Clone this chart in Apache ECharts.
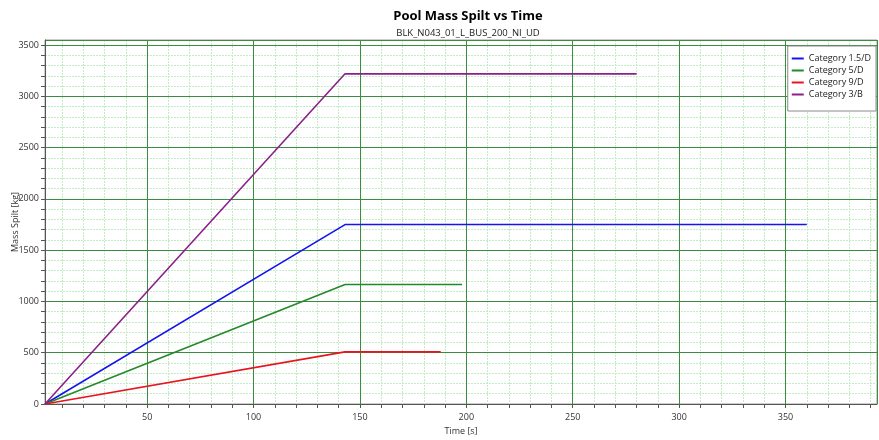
<!DOCTYPE html>
<html>
<head>
<meta charset="utf-8">
<script src="https://cdn.jsdelivr.net/npm/echarts@6/dist/echarts.min.js"></script>
<style>html,body{margin:0;padding:0;background:#fff}#c{width:879px;height:440px}</style>
</head>
<body>
<div id="c"></div>
<script>
const seriesNames = ['Category 1.5/D', 'Category 5/D', 'Category 9/D', 'Category 3/B'];
const seriesColors = ['#1414f0', '#23892a', '#e8141e', '#8c1f8c'];
const time15D = [2, 143, 360];
const mass15D = [0, 1750, 1750];
const time5D = [2, 143, 198];
const mass5D = [0, 1165, 1165];
const time9D = [2, 143, 188];
const mass9D = [0, 508, 508];
const time3B = [2, 143, 280];
const mass3B = [0, 3220, 3220];
const xLabelValues = [50, 100, 150, 200, 250, 300, 350];
const yLabelValues = [0, 500, 1000, 1500, 2000, 2500, 3000, 3500];

const xMin = 2, xMax = 393, yMin = 0, yMax = 3550;
const xMajorStep = 50, xMinorStep = 10, yMajorStep = 500, yMinorStep = 100;
const xTickValues = []; for (let v = 10; v <= 390; v += xMinorStep) xTickValues.push(v);
const yTickValues = []; for (let v = 0; v <= 3500; v += yMinorStep) yTickValues.push(v);

const pairs = (xs, ys) => xs.map((x, i) => [x, ys[i]]);
const dataSets = [pairs(time15D, mass15D), pairs(time5D, mass5D), pairs(time9D, mass9D), pairs(time3B, mass3B)];

const font = 'Open Sans';
const chart = echarts.init(document.getElementById('c'), null, {renderer: 'canvas'});

const gridAxis = (min, max, step, style, z) => ({
  type: 'value', min: min, max: max, minInterval: step, maxInterval: step, z: z,
  axisLine: {show: false}, axisTick: {show: false}, axisLabel: {show: false},
  splitLine: {show: true, lineStyle: style}, minorSplitLine: {show: false}
});
const minorStyle = {color: '#c4ecc4', width: 1, type: [2, 1]};
const majorStyle = {color: '#3a8c3f', width: 1, type: 'solid'};

chart.setOption({
  animation: false,
  backgroundColor: '#fff',
  title: [
    {text: 'Pool Mass Spilt vs Time', left: 463, top: 5, textAlign: 'center',
     textStyle: {fontFamily: font, fontSize: 13, fontWeight: 'bold', color: '#000'}},
    {text: 'BLK_N043_01_L_BUS_200_NI_UD', left: 463, top: 23, textAlign: 'center',
     textStyle: {fontFamily: font, fontSize: 9.5, fontWeight: 'normal', color: '#222'}}
  ],
  grid: {left: 45, right: 2, top: 40, bottom: 36, show: true, borderColor: '#9a9a9a', borderWidth: 1,
         backgroundColor: '#fff', containLabel: false, outerBoundsMode: 'none'},
  legend: {
    data: seriesNames, orient: 'vertical', right: 3, top: 46, z: 20,
    backgroundColor: '#fff', borderColor: '#8a8a8a', borderWidth: 1,
    padding: [8, 5, 12, 4], itemGap: 3, itemWidth: 12, itemHeight: 2, icon: 'rect',
    textStyle: {fontFamily: font, fontSize: 9, color: '#222'}
  },
  xAxis: [{
    type: 'value', min: xMin, max: xMax, z: 3,
    name: 'Time [s]', nameLocation: 'middle', nameGap: 22,
    nameTextStyle: {fontFamily: font, fontSize: 9, color: '#333'},
    axisLine: {show: true, lineStyle: {color: '#555', width: 1}},
    axisTick: {show: true, length: 4, customValues: xTickValues, lineStyle: {color: '#555'}},
    axisLabel: {customValues: xLabelValues, fontFamily: font, fontSize: 9, color: '#333', margin: 9,
                formatter: v => String(v)},
    splitLine: {show: false},
    minorSplitLine: {show: false}
  },
  gridAxis(xMin, xMax, xMinorStep, minorStyle, 0),
  gridAxis(xMin, xMax, xMajorStep, majorStyle, 1)
  ],
  yAxis: [{
    type: 'value', min: yMin, max: yMax, z: 3,
    name: 'Mass Spilt [kg]', nameLocation: 'middle', nameGap: 25, nameRotate: 90, nameMoveOverlap: false,
    nameTextStyle: {fontFamily: font, fontSize: 9, color: '#333'},
    axisLine: {show: true, lineStyle: {color: '#555', width: 1}},
    axisTick: {show: true, length: 4, customValues: yTickValues, lineStyle: {color: '#555'}},
    axisLabel: {customValues: yLabelValues, fontFamily: font, fontSize: 9, color: '#333', margin: 6,
                formatter: v => String(v)},
    splitLine: {show: false},
    minorSplitLine: {show: false}
  },
  gridAxis(yMin, yMax, yMinorStep, minorStyle, 0),
  gridAxis(yMin, yMax, yMajorStep, majorStyle, 1)
  ],
  series: seriesNames.map((n, i) => ({
    name: n, type: 'line', data: dataSets[i], z: 5,
    xAxisIndex: 0, yAxisIndex: 0,
    showSymbol: false, symbol: 'none',
    lineStyle: {color: seriesColors[i], width: 1.6},
    itemStyle: {color: seriesColors[i]}
  }))
});
</script>
</body>
</html>
